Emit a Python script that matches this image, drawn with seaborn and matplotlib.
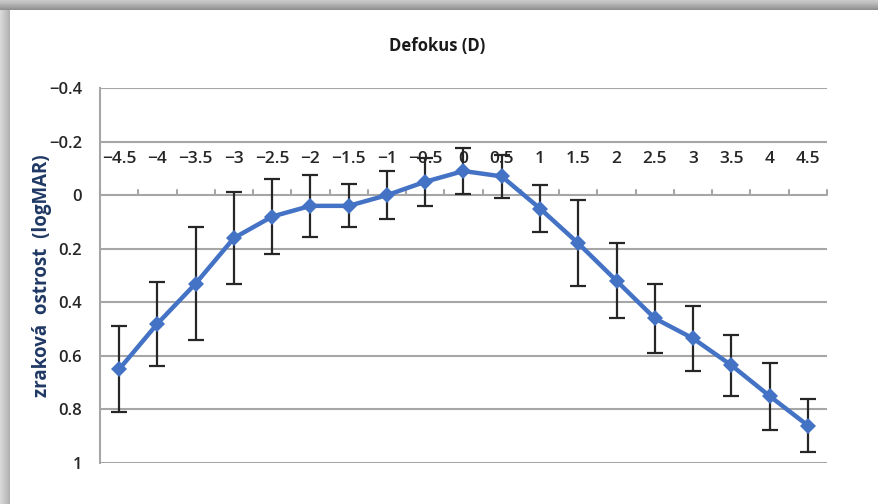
import numpy as np
import pandas as pd
import matplotlib
matplotlib.use("Agg")
import matplotlib.pyplot as plt
import seaborn as sns

# Defocus levels (dioptres) and mean visual acuity with SD
defocus_labels = ["−4.5", "−4", "−3.5", "−3", "−2.5", "−2", "−1.5", "−1", "−0.5",
                  "0", "0.5", "1", "1.5", "2", "2.5", "3", "3.5", "4", "4.5"]
acuity_mean = [0.65, 0.48, 0.33, 0.16, 0.08, 0.04, 0.04, 0.00, -0.05,
               -0.09, -0.07, 0.05, 0.18, 0.32, 0.46, 0.535, 0.635, 0.75, 0.86]
acuity_sd = [0.16, 0.157, 0.21, 0.17, 0.14, 0.115, 0.08, 0.09, 0.09,
             0.085, 0.08, 0.086, 0.16, 0.14, 0.13, 0.12, 0.113, 0.125, 0.10]
y_ticks = [-0.4, -0.2, 0, 0.2, 0.4, 0.6, 0.8, 1]
y_tick_labels = ["−0.4", "−0.2", "0", "0.2", "0.4", "0.6", "0.8", "1"]

sns.set_theme(style="white")
plt.rcParams["font.family"] = ["Open Sans", "DejaVu Sans"]

W, H = 879, 504
fig = plt.figure(figsize=(W / 100, H / 100), dpi=100)
fig.patch.set_facecolor("white")

# soft shadow frame along the top and left edges
shade = plt.get_cmap("Greys")
top = fig.add_axes([0, 1 - 10 / H, 1, 10 / H])
top.imshow(np.linspace(0.32, 0.52, 10).reshape(-1, 1), aspect="auto", cmap=shade,
           vmin=0, vmax=1, extent=[0, 1, 0, 1])
top.axis("off")
left = fig.add_axes([0, 0, 10 / W, 1 - 10 / H])
left.imshow(np.linspace(0.25, 0.42, 10).reshape(1, -1), aspect="auto", cmap=shade,
            vmin=0, vmax=1, extent=[0, 1, 0, 1])
left.axis("off")

x0, x1 = 100, 827
y0, y1 = 88, 463
ax = fig.add_axes([x0 / W, 1 - y1 / H, (x1 - x0) / W, (y1 - y0) / H])

df = pd.DataFrame({"pos": np.arange(len(defocus_labels)),
                   "defocus": defocus_labels,
                   "mean": acuity_mean,
                   "sd": acuity_sd})

grid_col = "#a6a6a6"
for v in y_ticks:
    ax.axhline(v, color=grid_col, lw=1.5, zorder=1)

ax.errorbar(df["pos"], df["mean"], yerr=df["sd"], fmt="none", ecolor="#262626",
            elinewidth=1.6, capsize=6, capthick=1.6, zorder=3)
sns.lineplot(data=df, x="pos", y="mean", ax=ax, color="#4472C4", lw=3.2,
             marker="D", markersize=8.5, markeredgewidth=0, zorder=4,
             errorbar=None, sort=False)

ax.set_xlim(-0.5, len(defocus_labels) - 0.5)
ax.set_ylim(1, -0.4)
ax.set_yticks(y_ticks)
ax.set_yticklabels(y_tick_labels)
ax.set_xticks([])
ax.set_xlabel("")
ax.set_ylabel("zraková  ostrost  (logMAR)", fontsize=13.5, fontweight="bold",
              color="#1F3864")
ax.yaxis.set_label_coords(-0.066, 0.5)

for s in ["top", "right", "bottom"]:
    ax.spines[s].set_visible(False)
ax.spines["left"].set_color(grid_col)
ax.spines["left"].set_linewidth(1.5)
ax.tick_params(axis="y", length=5, width=1.5, color=grid_col, pad=8,
               labelsize=12, labelcolor="#262626")
for t in ax.get_yticklabels():
    t.set_fontweight("semibold")

# category tick marks on the zero line, between categories
for b in np.arange(-0.5, len(defocus_labels), 1.0):
    ax.plot([b, b], [0, -0.02], color=grid_col, lw=1.5, zorder=2, clip_on=False)

# category labels above the zero line
for p, lab in zip(df["pos"], df["defocus"]):
    ax.text(p, -0.135, lab, ha="center", va="center", fontsize=12.5,
            fontweight="semibold", color="#262626", zorder=2)

fig.text(437 / W, 1 - 46 / H, "Defokus (D)", ha="center", va="center",
         fontsize=12, fontweight="bold", color="#1a1a1a")

fig.savefig("out.png", dpi=100, facecolor="white")
